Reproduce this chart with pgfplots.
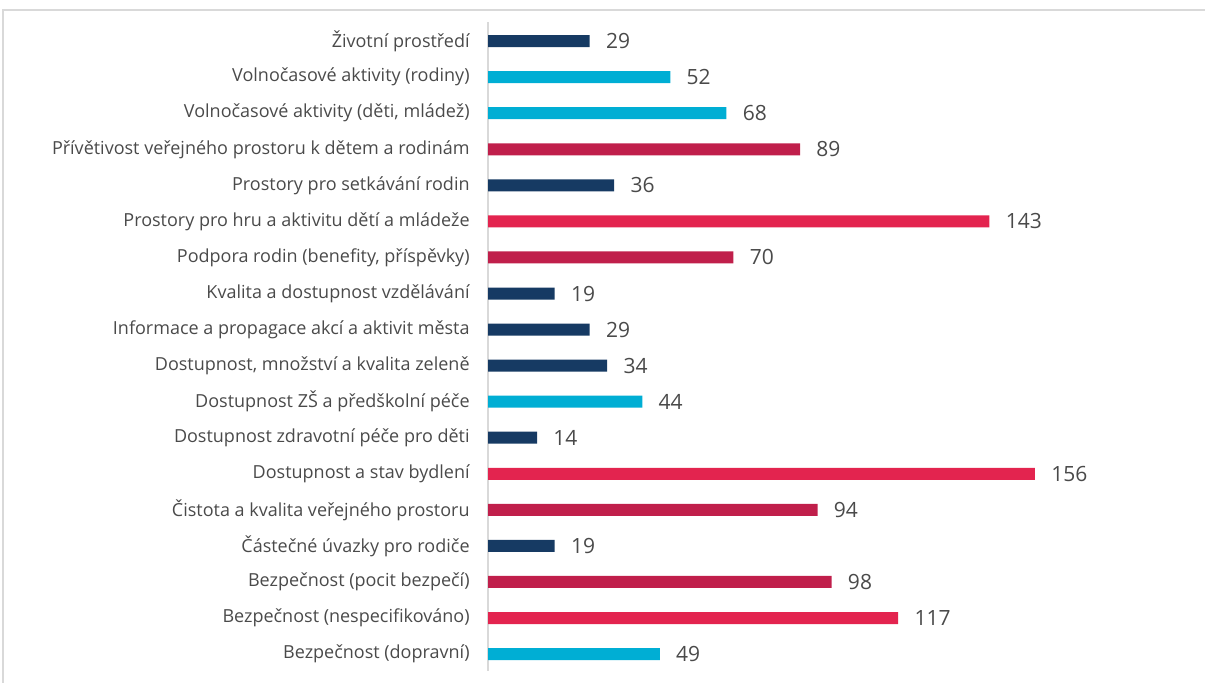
\documentclass[border=0pt]{standalone}
\usepackage{pgfplots}
\pgfplotsset{compat=1.18}
\usepackage{fontspec}
\setmainfont{Open Sans}
\definecolor{navy}{HTML}{163A63}
\definecolor{cyanbar}{HTML}{00AED4}
\definecolor{crimson}{HTML}{C01F4B}
\definecolor{brightred}{HTML}{E3244F}
\definecolor{txt}{HTML}{4A4A4A}
\definecolor{frame}{HTML}{D9D9D9}

\begin{document}
\begin{tikzpicture}
\path[use as bounding box] (0,0) rectangle (602.5pt,341pt);
% outer frame of the chart area
\draw[frame, line width=0.8pt] (1.5pt,-2pt) -- (1.5pt,336pt) -- (605pt,336pt);

\begin{axis}[
    at={(244pt,5.5pt)}, anchor=south west,
    scale only axis,
    width=350.6pt, height=324.5pt,
    xbar, bar width=6pt, bar shift=0pt,
    xmin=0, xmax=200,
    ymin=-0.53, ymax=17.47,
    y dir=reverse,
    axis x line=none,
    axis y line*=left,
    y axis line style={frame, line width=1pt, -},
    ytick={0,...,17},
    major tick length=0pt,
    yticklabels={
        Životní prostředí,
        Volnočasové aktivity (rodiny),
        {Volnočasové aktivity (děti, mládež)},
        Přívětivost veřejného prostoru k dětem a rodinám,
        Prostory pro setkávání rodin,
        Prostory pro hru a aktivitu dětí a mládeže,
        {Podpora rodin (benefity, příspěvky)},
        Kvalita a dostupnost vzdělávání,
        Informace a propagace akcí a aktivit města,
        {Dostupnost, množství a kvalita zeleně},
        Dostupnost ZŠ a předškolní péče,
        Dostupnost zdravotní péče pro děti,
        Dostupnost a stav bydlení,
        Čistota a kvalita veřejného prostoru,
        Částečné úvazky pro rodiče,
        Bezpečnost (pocit bezpečí),
        Bezpečnost (nespecifikováno),
        Bezpečnost (dopravní)},
    yticklabel style={font=\fontsize{9}{11}\selectfont, text=txt, inner sep=0pt, xshift=-9pt},
    /pgf/number format/assume math mode=true,
    nodes near coords,
    nodes near coords style={font=\fontsize{10.5}{12}\selectfont, text=txt, anchor=west, inner sep=0pt, xshift=8pt},
    clip=false,
]
% navy
\addplot[fill=navy, draw=none] coordinates {(29,0) (36,4) (19,7) (29,8) (34,9) (14,11) (19,14)};
% cyan
\addplot[fill=cyanbar, draw=none] coordinates {(52,1) (68,2) (44,10) (49,17)};
% crimson
\addplot[fill=crimson, draw=none] coordinates {(89,3) (70,6) (94,13) (98,15)};
% bright red
\addplot[fill=brightred, draw=none] coordinates {(143,5) (156,12) (117,16)};
\end{axis}
\end{tikzpicture}
\end{document}
